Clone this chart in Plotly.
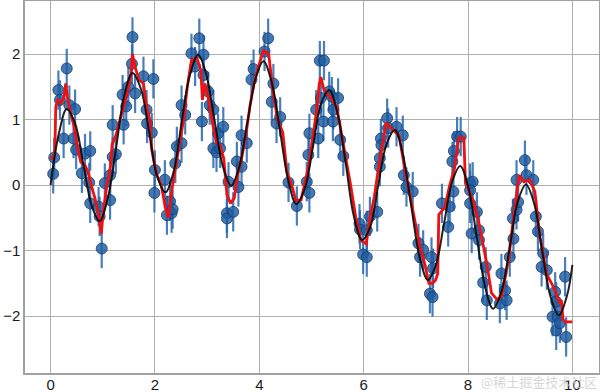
import plotly.graph_objects as go

pt_x = [0.05, 0.07, 0.15, 0.18, 0.25, 0.31, 0.36, 0.44, 0.47, 0.49, 0.60, 0.66, 0.74, 0.76, 0.76,
        0.92, 0.94, 0.98, 1.04, 1.14, 1.14, 1.19, 1.19, 1.25, 1.38, 1.40, 1.45, 1.49, 1.56, 1.57,
        1.62, 1.78, 1.84, 1.85, 1.94, 1.97, 2.00, 1.99, 2.19, 2.23, 2.29, 2.32, 2.34, 2.39, 2.42,
        2.51, 2.51, 2.58, 2.70, 2.77, 2.85, 2.90, 2.93, 2.93, 3.02, 3.05, 3.12, 3.12, 3.18, 3.21,
        3.25, 3.31, 3.38, 3.38, 3.41, 3.50, 3.57, 3.60, 3.66, 3.66, 3.76, 3.85, 3.89, 4.10, 4.17,
        4.24, 4.27, 4.33, 4.40, 4.56, 4.72, 4.91, 4.96, 4.94, 4.96, 5.09, 5.13, 5.16, 5.24, 5.18,
        5.23, 5.34, 5.39, 5.42, 5.41, 5.51, 5.55, 5.61, 5.92, 5.93, 5.99, 6.06, 6.06, 6.12, 6.26,
        6.31, 6.31, 6.33, 6.34, 6.45, 6.47, 6.63, 6.75, 6.77, 6.82, 6.94, 7.05, 7.08, 7.14, 7.27,
        7.30, 7.32, 7.33, 7.50, 7.62, 7.65, 7.72, 7.70, 7.73, 7.79, 7.86, 8.04, 8.09, 8.04, 8.04,
        8.17, 8.07, 8.21, 8.21, 8.34, 8.29, 8.36, 8.61, 8.64, 8.71, 8.74, 8.80, 8.87, 8.86, 8.93,
        8.96, 8.93, 9.09, 9.12, 9.25, 9.30, 9.34, 9.44, 9.41, 9.51, 9.62, 9.67, 9.69, 9.72, 9.69,
        9.76, 9.88, 9.86]
pt_y = [0.17, 0.42, 1.45, 1.30, 0.71, 1.78, 1.22, 0.71, 1.16, 0.54, 0.18, 0.48, 0.04, 0.52, -0.28,
        -0.33, -0.48, -0.97, 0.03, -0.23, 0.15, 0.43, 0.92, 0.47, 1.38, 0.92, 1.20, 1.50, 1.85, 2.26,
        1.40, 1.66, 1.15, 0.94, 0.80, 1.62, 0.23, -0.12, 0.08, -0.46, -0.25, -0.43, -0.37, 0.33, 0.59,
        0.64, 1.22, 1.07, 2.01, 1.81, 2.24, 0.97, 1.99, 1.68, 1.43, 1.22, 1.15, 0.56, 0.50, 0.79,
        0.56, 0.89, -0.43, -0.51, 0.05, -0.41, 0.36, -0.03, 0.28, 0.76, 0.64, 1.61, 1.77, 2.04, 2.24,
        1.27, 1.55, 0.94, 1.04, 0.04, -0.32, 0.05, -0.12, 0.46, 0.79, 1.15, 0.71, 1.90, 1.90, 1.33,
        0.97, 1.43, 1.35, 1.15, 0.97, 1.33, 0.69, 0.44, -0.59, -0.68, -1.06, -0.69, -1.10, -0.48, -0.41,
        0.28, 0.41, 0.71, 0.61, 1.02, 0.87, 0.89, 0.76, 0.15, -0.03, -0.10, -0.89, -1.10, -0.99, -1.66,
        -1.10, -1.71, -1.27, -0.28, -0.64, -0.33, -0.10, 0.36, 0.52, 0.74, 0.74, 0.03, 0.05, -0.08, -0.28,
        -0.41, -0.74, -0.69, -0.84, -1.25, -1.49, -1.76, -1.81, -1.35, -1.61, -1.76, -1.10, -0.82, -0.51, -0.38,
        -0.26, 0.08, 0.38, 0.15, 0.08, -0.48, -0.71, -1.04, -1.25, -1.30, -2.01, -1.63, -1.78, -2.01, -2.22,
        -2.11, -2.32, -1.40]
err_size = 0.3

# red model fit curve
fit_x = [0.00, 0.08, 0.10, 0.14, 0.20, 0.26, 0.29, 0.33, 0.38, 0.45, 0.52, 0.58, 0.66, 0.72, 0.78,
         0.85, 0.92, 0.97, 1.02, 1.08, 1.15, 1.18, 1.25, 1.33, 1.40, 1.48, 1.54, 1.57, 1.62, 1.70,
         1.78, 1.84, 1.90, 1.93, 1.97, 2.04, 2.12, 2.20, 2.26, 2.30, 2.38, 2.45, 2.55, 2.62, 2.70,
         2.80, 2.88, 2.91, 2.96, 3.03, 3.10, 3.18, 3.25, 3.32, 3.38, 3.45, 3.52, 3.58, 3.66, 3.75,
         3.82, 3.90, 3.98, 4.08, 4.18, 4.26, 4.35, 4.45, 4.53, 4.62, 4.70, 4.80, 4.88, 4.95, 5.02,
         5.10, 5.15, 5.18, 5.24, 5.30, 5.40, 5.48, 5.55, 5.62, 5.68, 5.75, 5.85, 5.95, 6.05, 6.12,
         6.20, 6.30, 6.38, 6.43, 6.55, 6.68, 6.80, 6.90, 6.98, 7.08, 7.17, 7.25, 7.32, 7.38, 7.42,
         7.44, 7.55, 7.65, 7.74, 7.82, 7.92, 7.95, 8.04, 8.12, 8.20, 8.30, 8.36, 8.45, 8.56, 8.64,
         8.72, 8.78, 8.85, 8.92, 8.98, 9.07, 9.18, 9.28, 9.38, 9.45, 9.50, 9.60, 9.69, 9.75, 9.79,
         9.82, 9.86, 10.00]
fit_y = [0.40, 0.45, 1.20, 1.30, 1.25, 1.35, 1.55, 1.30, 1.10, 0.90, 0.55, 0.35, 0.30, 0.20, 0.00,
         -0.20, -0.45, -0.75, -0.35, 0.00, 0.30, 0.62, 0.75, 1.00, 1.20, 1.45, 1.70, 2.00, 1.80, 1.60,
         1.55, 1.20, 1.00, 0.60, 0.40, 0.15, 0.00, -0.35, -0.50, -0.20, 0.20, 0.55, 1.00, 1.50, 1.90,
         1.95, 1.75, 1.30, 1.55, 1.30, 0.95, 0.65, 0.60, 0.40, -0.15, -0.28, -0.20, 0.15, 0.40, 0.80,
         1.20, 1.55, 1.80, 2.05, 2.00, 1.45, 1.00, 0.80, 0.20, 0.00, -0.23, -0.23, 0.05, 0.30, 0.70,
         1.15, 1.55, 1.65, 1.45, 1.40, 1.30, 1.20, 0.90, 0.55, 0.35, 0.00, -0.50, -0.85, -0.90, -0.50,
         -0.20, 0.35, 0.70, 0.95, 0.85, 0.75, 0.20, -0.20, -0.55, -0.95, -1.20, -1.50, -1.50, -1.45, -1.35,
         -0.45, -0.35, 0.00, 0.25, 0.72, 0.72, 0.05, -0.13, -0.30, -0.55, -0.95, -1.20, -1.65, -1.75, -1.70,
         -1.40, -1.13, -0.64, -0.20, 0.15, 0.05, 0.08, -0.10, -0.80, -1.10, -1.35, -1.50, -1.65, -1.80, -1.76,
         -2.05, -2.09, -2.09]

# black reference curve
true_x = [0.00, 0.16, 0.31, 0.47, 0.63, 0.79, 0.94, 1.10, 1.26, 1.41, 1.57, 1.73, 1.89, 2.04, 2.20,
          2.36, 2.51, 2.67, 2.83, 2.98, 3.14, 3.30, 3.46, 3.61, 3.77, 3.93, 4.08, 4.24, 4.40, 4.56,
          4.71, 4.87, 5.03, 5.18, 5.34, 5.50, 5.66, 5.81, 5.97, 6.13, 6.28, 6.44, 6.60, 6.75, 6.91,
          7.07, 7.23, 7.38, 7.54, 7.70, 7.85, 8.01, 8.17, 8.33, 8.48, 8.64, 8.80, 8.95, 9.11, 9.27,
          9.42, 9.58, 9.74, 9.90, 10.00]
true_y = [0.00, 0.79, 1.16, 0.94, 0.31, -0.32, -0.55, -0.19, 0.59, 1.36, 1.71, 1.47, 0.81, 0.14, -0.11,
          0.21, 0.95, 1.68, 1.99, 1.70, 1.00, 0.29, -0.01, 0.26, 0.95, 1.63, 1.89, 1.56, 0.81, 0.05,
          -0.29, -0.06, 0.59, 1.23, 1.45, 1.09, 0.31, -0.47, -0.84, -0.63, 0.00, 0.63, 0.84, 0.47, -0.31,
          -1.09, -1.45, -1.23, -0.59, 0.06, 0.29, -0.05, -0.81, -1.56, -1.89, -1.63, -0.95, -0.26, 0.01, -0.29,
          -1.00, -1.70, -1.99, -1.68, -1.22]

x_ticks = [0, 2, 4, 6, 8, 10]
y_ticks = [-2, -1, 0, 1, 2]

blue = "rgba(31,92,160,0.82)"

fig = go.Figure()
fig.add_trace(go.Scatter(
    x=pt_x, y=pt_y, mode="markers",
    marker=dict(size=11, color=blue, line=dict(color="rgba(20,60,115,0.8)", width=1)),
    error_y=dict(type="constant", value=err_size, color="rgba(40,105,175,0.85)",
                 thickness=2.2, width=0),
    showlegend=False,
))
fig.add_trace(go.Scatter(
    x=fit_x, y=fit_y, mode="lines",
    line=dict(color="#ee1111", width=2.8),
    showlegend=False,
))
fig.add_trace(go.Scatter(
    x=true_x, y=true_y, mode="lines", line_shape="spline",
    line=dict(color="rgba(10,10,10,0.9)", width=2),
    showlegend=False,
))

axis_common = dict(
    showgrid=True, gridcolor="#b0b0b0", gridwidth=1.2, automargin=False,
    zeroline=False, showline=True, linecolor="#a0a0a0", linewidth=1.5, mirror=True,
    ticks="", tickfont=dict(family="Liberation Sans, Arial, sans-serif", size=15, color="#1a1a1a"),
)
fig.update_xaxes(range=[-0.49, 10.51], tickvals=x_ticks, ticklabelstandoff=-3, **axis_common)
fig.update_yaxes(range=[-2.87, 2.81], tickvals=y_ticks, ticklabelstandoff=0, **axis_common)

fig.add_annotation(
    text="@稀土掘金技术社区", xref="paper", yref="paper", x=1.0, y=-0.024,
    xanchor="right", yanchor="middle", showarrow=False,
    font=dict(family="Noto Sans CJK SC", size=13, color="rgba(200,200,200,0.75)"),
)

fig.update_layout(
    width=600, height=392,
    margin=dict(l=25, r=1, t=1, b=19, autoexpand=False),
    plot_bgcolor="white", paper_bgcolor="white",
)

fig.write_html("out.html", config={"displayModeBar": False},
               post_script="document.body.style.margin='0';")
